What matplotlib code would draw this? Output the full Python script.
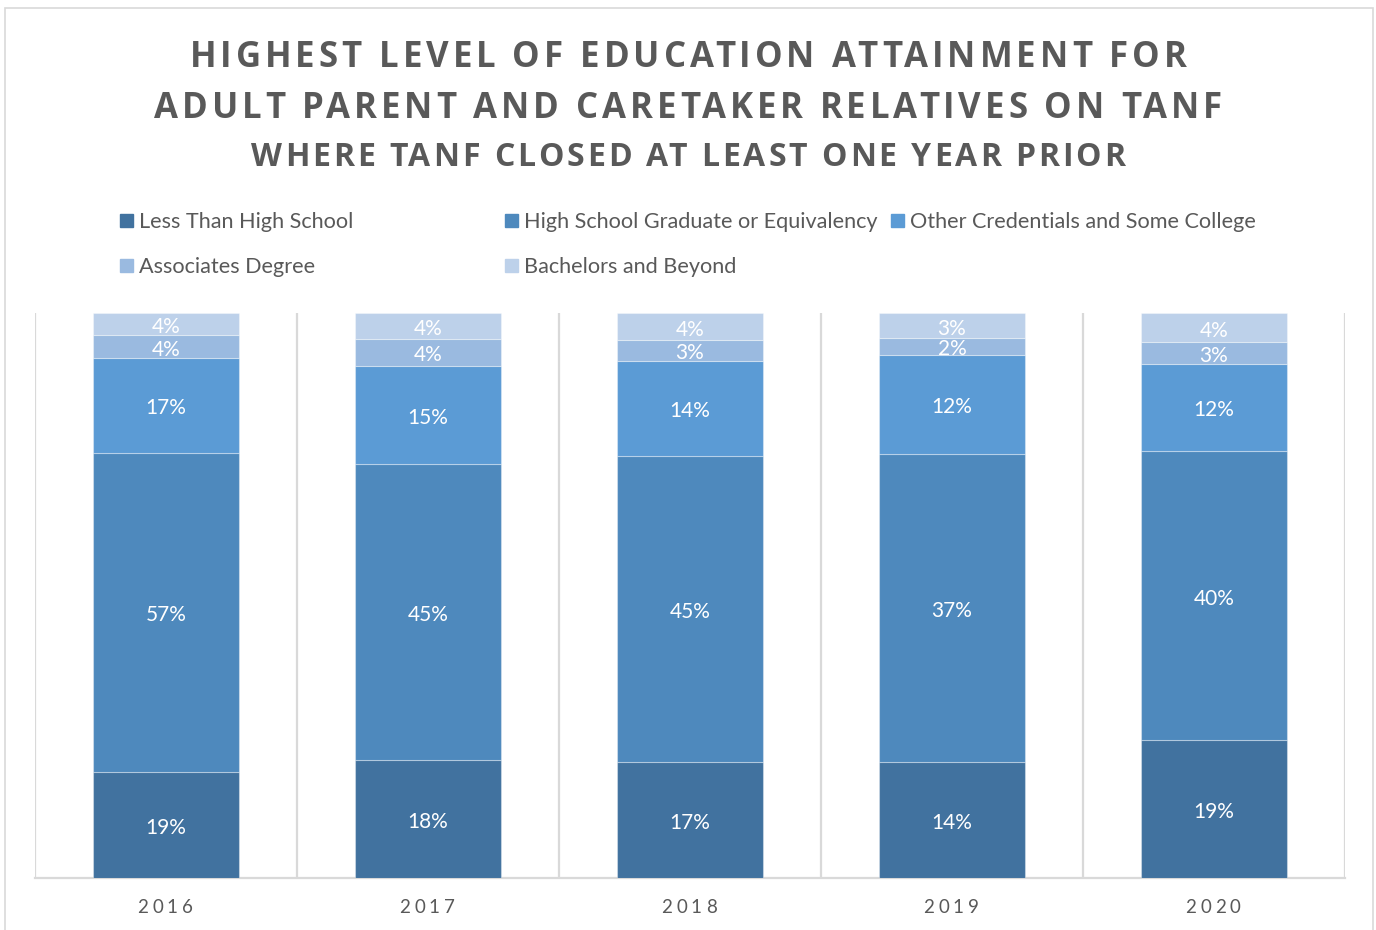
import matplotlib
matplotlib.use("Agg")
import matplotlib.pyplot as plt
from matplotlib.patches import Rectangle
import numpy as np

years = ["2016", "2017", "2018", "2019", "2020"]
series = ["Less Than High School", "High School Graduate or Equivalency",
          "Other Credentials and Some College", "Associates Degree",
          "Bachelors and Beyond"]
less_hs = [19, 18, 17, 14, 19]
hs_grad = [57, 45, 45, 37, 40]
some_college = [17, 15, 14, 12, 12]
associates = [4, 4, 3, 2, 3]
bachelors = [4, 4, 4, 3, 4]

colors = ["#41729F", "#4E89BD", "#5B9BD5", "#9ABAE0", "#BDD1EA"]
grey_text = "#595959"
grid_grey = "#D9D9D9"
W, H = 1376, 930

fig = plt.figure(figsize=(W / 100, H / 100), dpi=100)
renderer = fig.canvas.get_renderer()


def text_width(s, **kw):
    t = fig.text(0, 0, s, **kw)
    w = t.get_window_extent(renderer).width
    t.remove()
    return w


def spaced_text(cx, cy, s, spacing, **kw):
    # matplotlib has no letter-spacing, so place glyphs one by one (pixel coords)
    total = text_width(s, **kw) + spacing * (len(s) - 1)
    x0 = cx - total / 2
    for i, ch in enumerate(s):
        if ch == " ":
            continue
        left = x0 + text_width(s[:i + 1], **kw) - text_width(ch, **kw) + i * spacing
        fig.text(left / W, 1 - cy / H, ch, ha="left", va="center", **kw)


# outer chart border
fig.patches.append(Rectangle((5 / W, -0.01), 1368 / W, 1.01 - 8 / H,
                             transform=fig.transFigure, fill=False,
                             edgecolor=grid_grey, lw=1.2))

# titles
title_kw = dict(family="Open Sans", weight="bold", color=grey_text)
spaced_text(688, 58, "HIGHEST LEVEL OF EDUCATION ATTAINMENT FOR", 3.95, fontsize=25, **title_kw)
spaced_text(688, 109, "ADULT PARENT AND CARETAKER RELATIVES ON TANF", 3.9, fontsize=25, **title_kw)
spaced_text(688, 158, "WHERE TANF CLOSED AT LEAST ONE YEAR PRIOR", 2.9, fontsize=23, **title_kw)

# legend, laid out by hand in three columns
legend_pos = [(120, 220), (505, 220), (891, 220), (120, 265), (505, 265)]
for name, col, (lx, ly) in zip(series, colors, legend_pos):
    fig.patches.append(Rectangle((lx / W, 1 - (ly + 7) / H), 13 / W, 13 / H,
                                 transform=fig.transFigure, color=col))
    fig.text((lx + 19) / W, 1 - (ly + 2) / H, name, ha="left", va="center",
             family="Lato", fontsize=15.6, color=grey_text)

ax = fig.add_axes([35 / W, 1 - 878 / H, 1310 / W, 565 / H])

data = np.array([less_hs, hs_grad, some_college, associates, bachelors], dtype=float)
shares = data / data.sum(axis=0)
x = np.arange(len(years))
bottom = np.zeros(len(years))
for i in range(len(series)):
    ax.bar(x, shares[i], bottom=bottom, width=0.557, color=colors[i],
           edgecolor=(1, 1, 1, 0.35), linewidth=0.8, zorder=3)
    for j in range(len(years)):
        ax.annotate(f"{int(data[i][j])}%", (x[j], bottom[j] + shares[i][j] / 2),
                    xytext=(0, -2.2), textcoords="offset points",
                    ha="center", va="center", color="white", family="Lato",
                    fontsize=15, zorder=4)
    bottom += shares[i]

ax.set_xlim(-0.5, len(years) - 0.5)
ax.set_ylim(0, 1)
for b in np.arange(len(years) + 1) - 0.5:
    ax.axvline(b, color=grid_grey, lw=1.6, zorder=1)
for s in ["top", "left", "right"]:
    ax.spines[s].set_visible(False)
ax.spines["bottom"].set_color(grid_grey)
ax.spines["bottom"].set_linewidth(1.6)
ax.set_xticks([])
ax.set_yticks([])

for j, yr in enumerate(years):
    spaced_text(165 + 262 * j, 907, yr, 4, family="Lato", fontsize=13.5, color=grey_text)

fig.savefig("out.png", dpi=100)
